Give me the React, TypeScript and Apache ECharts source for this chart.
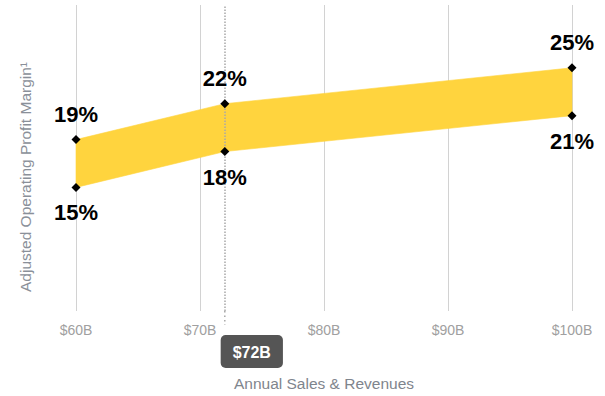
import React, { useEffect, useRef } from "react";
import * as echarts from "echarts";

const salesB = [60, 72, 100];
const lowerMargin = [15, 18, 21];
const upperMargin = [19, 22, 25];
const xTicks = [60, 70, 80, 90, 100];
const markerSales = 72;
const markerLabel = "$72B";
const xTitle = "Annual Sales & Revenues";
const yTitle = "Adjusted Operating Profit Margin\u00b9";

const FONT = "'Liberation Sans', Arial, Helvetica, sans-serif";

export default function App() {
  const ref = useRef<HTMLDivElement>(null);
  useEffect(() => {
    document.body.style.margin = "0";
    const chart = echarts.init(ref.current!, null, { renderer: "svg" });
    const lower = salesB.map((x, i) => [x, lowerMargin[i]]);
    const upper = salesB.map((x, i) => [x, upperMargin[i]]);
    const segments = salesB.slice(0, -1).map((x, i) => [
      x,
      lowerMargin[i],
      upperMargin[i],
      salesB[i + 1],
      lowerMargin[i + 1],
      upperMargin[i + 1],
    ]);
    const labelStyle = {
      show: true,
      distance: 10,
      formatter: (p: any) => `${p.value[1]}%`,
      color: "#000",
      fontSize: 22,
      fontWeight: "bold",
      fontFamily: FONT,
    };
    chart.setOption({
      animation: false,
      textStyle: { fontFamily: FONT },
      grid: { left: 76, right: 33, top: 5, bottom: 84 },
      xAxis: {
        type: "value",
        min: xTicks[0],
        max: xTicks[xTicks.length - 1],
        interval: 10,
        axisLine: { show: false },
        axisTick: { show: false },
        splitLine: { show: true, lineStyle: { color: "#d2d2d2", width: 1 } },
        axisLabel: {
          formatter: (v: number) => `$${v}B`,
          color: "#a0a0a0",
          fontSize: 14,
          margin: 12,
          fontFamily: FONT,
        },
        name: xTitle,
        nameLocation: "middle",
        nameGap: 64,
        nameTextStyle: { color: "#7f858d", fontSize: 15.5, fontFamily: FONT },
      },
      yAxis: {
        type: "value",
        min: 4.67,
        max: 30.25,
        axisLine: { show: false },
        axisTick: { show: false },
        splitLine: { show: false },
        axisLabel: { show: false },
      },
      graphic: [
        {
          type: "text",
          x: 25,
          y: 177,
          rotation: Math.PI / 2,
          style: {
            text: yTitle,
            fill: "#8a9099",
            fontSize: 15.5,
            fontFamily: FONT,
            align: "center",
            verticalAlign: "middle",
          },
        },
      ],
      series: [
        {
          type: "custom",
          data: segments,
          z: 2,
          silent: true,
          renderItem: (params: any, api: any) => {
            const a1 = api.coord([api.value(0), api.value(1)]);
            const a2 = api.coord([api.value(0), api.value(2)]);
            const b1 = api.coord([api.value(3), api.value(4)]);
            const b2 = api.coord([api.value(3), api.value(5)]);
            return {
              type: "polygon",
              shape: { points: [a1, b1, b2, a2] },
              style: { fill: "#FFD43E", stroke: "#FFD43E", lineWidth: 0.6 },
            };
          },
        },
        {
          type: "line",
          data: lower,
          symbol: "diamond",
          symbolSize: 9,
          itemStyle: { color: "#000" },
          lineStyle: { opacity: 0 },
          z: 5,
          label: { ...labelStyle, position: "bottom" },
          markLine: {
            silent: true,
            symbol: "none",
            lineStyle: { color: "#a8a8a8", type: "dotted", width: 1.5 },
            data: [{ xAxis: markerSales }],
            label: {
              show: true,
              position: "start",
              formatter: markerLabel,
              color: "#fff",
              fontWeight: "bold",
              fontSize: 16,
              fontFamily: FONT,
              backgroundColor: "#555555",
              padding: [9, 12, 8, 12],
              borderRadius: 5,
              offset: [27, 19],
            },
          },
        },
        {
          type: "line",
          data: upper,
          symbol: "diamond",
          symbolSize: 9,
          itemStyle: { color: "#000" },
          lineStyle: { opacity: 0 },
          z: 5,
          label: { ...labelStyle, position: "top" },
        },
      ],
    });
    const [mx, my] = chart.convertToPixel({ gridIndex: 0 }, [markerSales, 4.67]);
    chart.setOption({
      graphic: [
        {
          type: "text",
          x: 25,
          y: 177,
          rotation: Math.PI / 2,
          style: {
            text: yTitle,
            fill: "#8a9099",
            fontSize: 15.5,
            fontFamily: FONT,
            align: "center",
            verticalAlign: "middle",
          },
        },
        {
          type: "line",
          shape: { x1: mx, y1: my, x2: mx, y2: my + 14 },
          style: { stroke: "#a8a8a8", lineWidth: 1.5, lineDash: [1.5, 3] },
        },
      ],
    });
    return () => chart.dispose();
  }, []);
  return <div ref={ref} style={{ width: 605, height: 396 }} />;
}
